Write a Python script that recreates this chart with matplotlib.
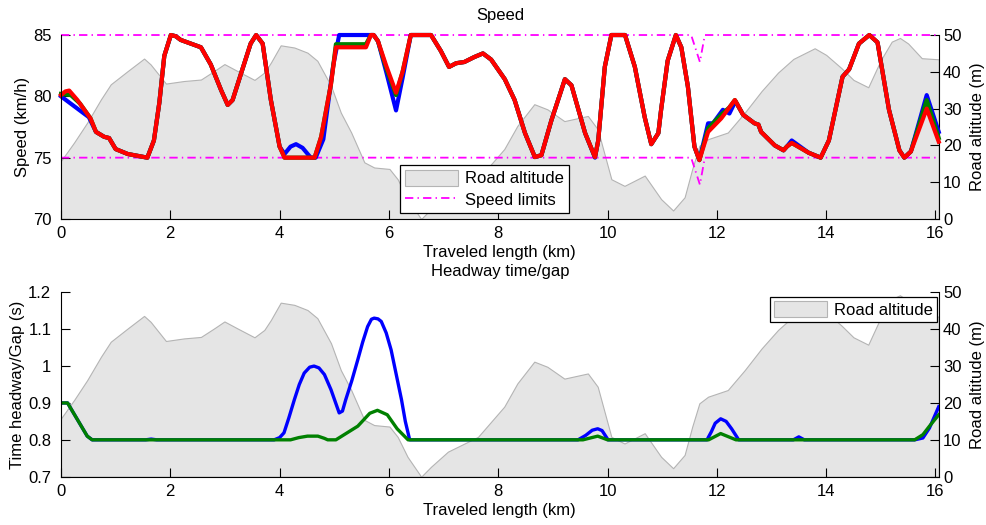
import numpy as np
import matplotlib.pyplot as plt
from matplotlib.patches import Patch
from matplotlib.lines import Line2D
from matplotlib.ticker import FormatStrFormatter

plt.rcParams['font.family'] = ['Liberation Sans', 'DejaVu Sans']
plt.rcParams['font.size'] = 12
plt.rcParams['lines.scale_dashes'] = False

# Road altitude profile (m) along the route (km)
alt_x = [0.0, 0.24, 0.48, 0.73, 0.91, 1.22, 1.52, 1.64, 1.92, 2.25, 2.56, 2.8,
         2.99, 3.23, 3.54, 3.72, 3.84, 4.02, 4.27, 4.51, 4.69, 4.94, 5.12, 5.31,
         5.55, 5.73, 6.01, 6.16, 6.34, 6.59, 6.77, 7.08, 7.63, 8.11, 8.35, 8.66,
         8.9, 9.21, 9.64, 9.82, 10.07, 10.31, 10.68, 10.98, 11.2, 11.41, 11.55,
         11.68, 11.84, 12.2, 12.51, 12.82, 13.12, 13.4, 13.79, 14.0, 14.28, 14.5,
         14.77, 15.0, 15.2, 15.35, 15.5, 15.75, 16.06]
alt_m = [15.8, 20.8, 26.2, 32.5, 36.6, 40.2, 43.6, 42.0, 36.8, 37.5, 37.9, 40.2,
         42.1, 40.2, 37.8, 39.8, 42.5, 47.2, 46.6, 45.2, 43.0, 36.2, 28.9, 23.5,
         15.4, 14.0, 13.6, 10.8, 5.4, 0.0, 2.7, 6.8, 10.8, 19.0, 25.3, 31.2,
         29.8, 26.6, 28.0, 24.4, 10.8, 9.0, 11.8, 5.4, 2.3, 5.9, 13.6,
         19.9, 21.7, 23.5, 28.9, 34.8, 39.8, 43.5, 46.4, 44.6, 41.0, 37.8,
         35.8, 43.2, 48.2, 49.2, 47.7, 43.7, 43.4]

# Speed limits (km/h)
lim_x = [0.0, 11.53, 11.69, 11.78, 16.06]
lim_hi = [85, 85, 82.8, 85, 85]
lim_lo = [75, 75, 72.8, 75, 75]

# Vehicle speeds (km/h)
spd_red_x = [0.0, 0.08, 0.15, 0.3, 0.54, 0.64, 0.79, 0.88, 1.0, 1.22, 1.58, 1.7,
             1.8, 1.89, 2.01, 2.1, 2.19, 2.56, 2.74, 2.93, 3.05, 3.14, 3.29, 3.47,
             3.57, 3.69, 3.84, 4.0, 4.09, 4.64, 4.76, 4.94, 5.03, 5.58, 5.67, 5.72,
             5.8, 5.95, 6.13, 6.25, 6.4, 6.77, 6.95, 7.1, 7.23, 7.38, 7.56, 7.72,
             7.87, 8.12, 8.3, 8.49, 8.67, 8.79, 8.97, 9.22, 9.34, 9.59, 9.77, 9.83,
             9.95, 10.07, 10.32, 10.5, 10.68, 10.8, 10.93, 10.98, 11.1, 11.25,
             11.35, 11.47, 11.59, 11.68, 11.84, 12.08, 12.33, 12.48, 12.69, 12.76,
             12.81, 13.06, 13.22, 13.28, 13.37, 13.68, 13.9, 14.05, 14.3, 14.42,
             14.6, 14.79, 14.94, 15.15, 15.34, 15.43, 15.55, 15.84, 16.06]
spd_red = [80.1, 80.4, 80.47, 79.7, 78.2, 77.1, 76.7, 76.6, 75.7, 75.3, 75.0, 76.4,
           79.5, 83.3, 85.0, 84.9, 84.6, 84.0, 82.6, 80.5, 79.3, 79.7, 81.8, 84.3,
           85.0, 84.3, 79.7, 75.9, 75.0, 75.0, 76.7, 81.0, 84.0, 84.0, 85.0, 85.0,
           84.5, 82.5, 80.3, 82.0, 85.0, 85.0, 83.7, 82.4, 82.7, 82.8, 83.2, 83.5,
           83.0, 81.4, 79.7, 77.0, 75.05, 75.2, 78.0, 81.4, 80.9, 77.0, 75.05, 76.4,
           82.4, 85.0, 85.0, 82.4, 78.3, 76.1, 77.0, 78.9, 82.9, 85.0,
           84.0, 80.8, 75.9, 74.8, 77.1, 78.2, 79.7, 78.5, 77.8, 77.7,
           77.1, 76.0, 75.6, 75.9, 76.2, 75.4, 75.0, 76.4, 81.6, 82.2,
           84.3, 85.0, 84.4, 78.9, 75.6, 75.0, 75.5, 79.0, 76.3]

spd_blue_x = [0.0, 0.51, 0.64, 0.79, 0.88, 1.0, 1.22, 1.58, 1.7, 1.8, 1.89, 2.01,
              2.1, 2.19, 2.56, 2.74, 2.93, 3.05, 3.14, 3.29, 3.47, 3.57, 3.69,
              3.84, 4.0, 4.09, 4.2, 4.3, 4.42, 4.57, 4.66, 4.8, 4.98, 5.09, 5.72,
              5.8, 5.95, 6.13, 6.25, 6.4, 6.77, 6.95, 7.1, 7.23, 7.38, 7.56, 7.72,
              7.87, 8.12, 8.3, 8.49, 8.67, 8.79, 8.97, 9.22, 9.34, 9.59, 9.77, 9.83,
              9.95, 10.07, 10.32, 10.5, 10.68, 10.8, 10.93, 10.98, 11.1, 11.25,
              11.35, 11.47, 11.59, 11.68, 11.84, 11.93, 12.11, 12.23, 12.34, 12.48,
              12.69, 12.76, 12.81, 13.06, 13.22, 13.28, 13.37, 13.68, 13.9, 14.05,
              14.3, 14.42, 14.6, 14.79, 14.94, 15.15, 15.34, 15.43, 15.55, 15.84,
              16.06]
spd_blue = [80.0, 78.3, 77.1, 76.7, 76.6, 75.7, 75.3, 75.0, 76.4, 79.5, 83.3, 85.0,
            84.9, 84.6, 84.0, 82.6, 80.5, 79.3, 79.7, 81.8, 84.3, 85.0, 84.3,
            79.7, 75.9, 75.3, 75.9, 76.1, 75.8, 75.0, 75.0, 76.5, 82.5, 85.0, 85.0,
            84.5, 82.0, 78.85, 81.5, 85.0, 85.0, 83.7, 82.4, 82.7, 82.8, 83.2, 83.5,
            83.0, 81.4, 79.7, 77.0, 75.05, 75.2, 78.0, 81.4, 80.9, 77.0, 75.0, 76.4,
            82.4, 85.0, 85.0, 82.4, 78.3, 76.1, 77.0, 78.9, 82.9, 85.0,
            84.0, 80.8, 75.9, 74.8, 77.8, 77.8, 78.9, 78.6, 79.6, 78.5,
            77.8, 77.7, 77.1, 76.0, 75.6, 75.9, 76.4, 75.4, 75.0, 76.4,
            81.6, 82.2, 84.3, 85.0, 84.4, 78.9, 75.6, 75.0, 75.5, 80.1,
            77.1]

spd_green_x = [0.0, 0.18, 0.35, 0.54, 0.64, 0.79, 0.88, 1.0, 1.22, 1.58, 1.7, 1.8,
               1.89, 2.01, 2.1, 2.19, 2.56, 2.74, 2.93, 3.05, 3.14, 3.29, 3.47,
               3.57, 3.69, 3.84, 4.0, 4.09, 4.64, 4.76, 4.94, 5.03, 5.58, 5.67,
               5.72, 5.8, 5.95, 6.13, 6.25, 6.4, 6.77, 6.95, 7.1, 7.23, 7.38, 7.56,
               7.72, 7.87, 8.12, 8.3, 8.49, 8.67, 8.79, 8.97, 9.22, 9.34, 9.59,
               9.77, 9.83, 9.95, 10.07, 10.32, 10.5, 10.68, 10.8, 10.93, 10.98,
               11.1, 11.25, 11.35, 11.47, 11.59, 11.68, 11.84, 12.08, 12.23, 12.33,
               12.48, 12.69, 12.76, 12.81, 13.06, 13.22, 13.28, 13.37, 13.68, 13.9,
               14.05, 14.3, 14.42, 14.6, 14.79, 14.94, 15.15, 15.34, 15.43, 15.55,
               15.84, 16.06]
spd_green = [80.2, 80.1, 79.4, 78.2, 77.1, 76.7, 76.6, 75.7, 75.3, 75.0, 76.4, 79.5,
             83.3, 85.0, 84.9, 84.6, 84.0, 82.6, 80.5, 79.3, 79.7, 81.8, 84.3,
             85.0, 84.3, 79.7, 75.9, 75.0, 75.0, 76.7, 81.0, 84.25, 84.25, 85.0,
             85.0, 84.5, 82.3, 80.1, 82.0, 85.0, 85.0, 83.7, 82.4, 82.7, 82.8, 83.2,
             83.5, 83.0, 81.4, 79.7, 77.0, 75.05, 75.2, 78.0, 81.4, 80.9, 77.0,
             75.05, 76.4, 82.4, 85.0, 85.0, 82.4, 78.3, 76.1, 77.0, 78.9,
             82.9, 85.0, 84.0, 80.8, 75.9, 74.8, 77.4, 78.5, 79.1, 79.7,
             78.5, 77.8, 77.7, 77.1, 76.0, 75.6, 75.9, 76.2, 75.4, 75.0,
             76.4, 81.6, 82.2, 84.3, 85.0, 84.4, 78.9, 75.6, 75.0, 75.5,
             79.7, 76.6]

# Headway time / gap (s)
hw_green_x = [0.0, 0.12, 0.3, 0.48, 0.57, 4.2, 4.35, 4.51, 4.7, 4.82, 4.88, 5.03,
              5.43, 5.65, 5.79, 5.97, 6.15, 6.35, 9.55, 9.82, 10.0, 11.85, 12.07,
              12.35, 15.62, 15.77, 15.89, 16.06]
hw_green = [0.9, 0.9, 0.855, 0.81, 0.8, 0.8, 0.806, 0.81, 0.81, 0.804, 0.8, 0.8,
            0.837, 0.872, 0.88, 0.868, 0.83, 0.8, 0.8, 0.81, 0.8, 0.8, 0.817,
            0.8, 0.8, 0.814, 0.837, 0.868]

hw_blue_x = [0.0, 0.12, 0.3, 0.48, 0.57, 1.55, 1.65, 1.75, 3.9, 4.0, 4.08, 4.17,
             4.27, 4.36, 4.45, 4.55, 4.63, 4.72, 4.82, 4.94, 5.09, 5.15, 5.21, 5.32,
             5.43, 5.52, 5.61, 5.68, 5.73, 5.8, 5.86, 5.95, 6.04, 6.13, 6.23, 6.3,
             6.38, 9.46, 9.6, 9.72, 9.82, 9.9, 10.01, 11.82, 11.9, 11.97, 12.07,
             12.17, 12.27, 12.4, 13.4, 13.5, 13.6, 15.62, 15.77, 15.89, 16.06]
hw_blue = [0.9, 0.9, 0.855, 0.81, 0.8, 0.8, 0.802, 0.8, 0.8, 0.806, 0.819, 0.86,
           0.909, 0.95, 0.981, 0.997, 1.0, 0.995, 0.977, 0.936, 0.873, 0.878, 0.909,
           0.96, 1.017, 1.065, 1.107, 1.127, 1.13, 1.128, 1.121, 1.09, 1.044, 0.98,
           0.909, 0.85, 0.8, 0.8, 0.812, 0.826, 0.83, 0.825, 0.8, 0.8, 0.822, 0.845,
           0.857, 0.85, 0.83, 0.8, 0.8, 0.808, 0.8, 0.8, 0.805, 0.832, 0.89]

x_max = 16.06
fill_kw = dict(facecolor='#e5e5e5', edgecolor='#b4b4b4', linewidth=0.8)
dashdot = (6, 3, 1, 3)


def setup_axes(ax, ax2):
    ax.set_xlim(0, x_max)
    ax.set_xticks(np.arange(0, 17, 2))
    ax.set_xlabel('Traveled length (km)', labelpad=3)
    ax.tick_params(direction='in', length=6.3, width=0.8, labelsize=12)
    ax.tick_params(axis='x', pad=5)
    ax.tick_params(axis='y', pad=7)
    ax2.tick_params(direction='in', length=6.3, width=0.8, labelsize=12, pad=3)
    ax2.set_ylim(0, 50)
    ax2.set_yticks(np.arange(0, 51, 10))
    ax2.set_ylabel('Road altitude (m)', labelpad=6)
    ax.spines['top'].set_visible(False)
    ax.spines['right'].set_visible(False)
    ax2.spines['top'].set_visible(False)
    ax2.spines['left'].set_visible(False)
    ax2.spines['bottom'].set_visible(False)
    # altitude drawn behind the main curves
    ax.set_zorder(ax2.get_zorder() + 1)
    ax.patch.set_visible(False)


fig = plt.figure(figsize=(9.87, 5.25), dpi=100)

##### Speed #####
ax1 = fig.add_axes([0.0618, 0.5829, 0.8893, 0.3504])
ax1b = ax1.twinx()
setup_axes(ax1, ax1b)
ax1b.fill_between(alt_x, 0, alt_m, **fill_kw)

ax1.plot(lim_x, lim_hi, color='#ff00ff', lw=1.3, dashes=dashdot)
ax1.plot(lim_x, lim_lo, color='#ff00ff', lw=1.3, dashes=dashdot)
ax1.plot(spd_blue_x, spd_blue, color='#0000ff', lw=3, solid_joinstyle='round')
ax1.plot(spd_green_x, spd_green, color='#008000', lw=3, solid_joinstyle='round')
ax1.plot(spd_red_x, spd_red, color='#ff0000', lw=3, solid_joinstyle='round')
for ln in ax1.lines:
    ln.set_clip_on(False)
ax1.set_ylim(70, 85)
ax1.set_yticks([70, 75, 80, 85])
ax1.set_ylabel('Speed (km/h)', labelpad=2)
ax1.set_title('Speed', fontsize=12, pad=11)

handles = [Patch(**fill_kw),
           Line2D([], [], color='#ff00ff', lw=1.3, dashes=dashdot)]
leg = ax1.legend(handles, ['Road altitude', 'Speed limits'], loc='lower center',
                 bbox_to_anchor=(0.482, 0.033), borderaxespad=0, fancybox=False,
                 framealpha=1, edgecolor='black', handlelength=3.2,
                 handleheight=1.1, labelspacing=0.3, borderpad=0.3,
                 handletextpad=0.4)
leg.get_frame().set_linewidth(0.9)

##### Headway time/gap #####
ax2 = fig.add_axes([0.0618, 0.092, 0.8893, 0.3512])
ax2b = ax2.twinx()
setup_axes(ax2, ax2b)
ax2b.fill_between(alt_x, 0, alt_m, **fill_kw)

ax2.plot(hw_blue_x, hw_blue, color='#0000ff', lw=2.4, solid_joinstyle='round')
ax2.plot(hw_green_x, hw_green, color='#008000', lw=2.4, solid_joinstyle='round')
ax2.set_ylim(0.7, 1.2)
ax2.set_yticks([0.7, 0.8, 0.9, 1.0, 1.1, 1.2])
ax2.yaxis.set_major_formatter(FormatStrFormatter('%g'))
ax2.set_ylabel('Time headway/Gap (s)', labelpad=2)
ax2.set_title('Headway time/gap', fontsize=12, pad=12)

leg2 = ax2.legend([Patch(**fill_kw)], ['Road altitude'], loc='upper right',
                  bbox_to_anchor=(0.998, 0.975), borderaxespad=0, fancybox=False,
                  framealpha=1, edgecolor='black', handlelength=3.2,
                  handleheight=1.1, borderpad=0.25, handletextpad=0.4)
leg2.get_frame().set_linewidth(0.9)

plt.savefig('out.png', dpi=100)
